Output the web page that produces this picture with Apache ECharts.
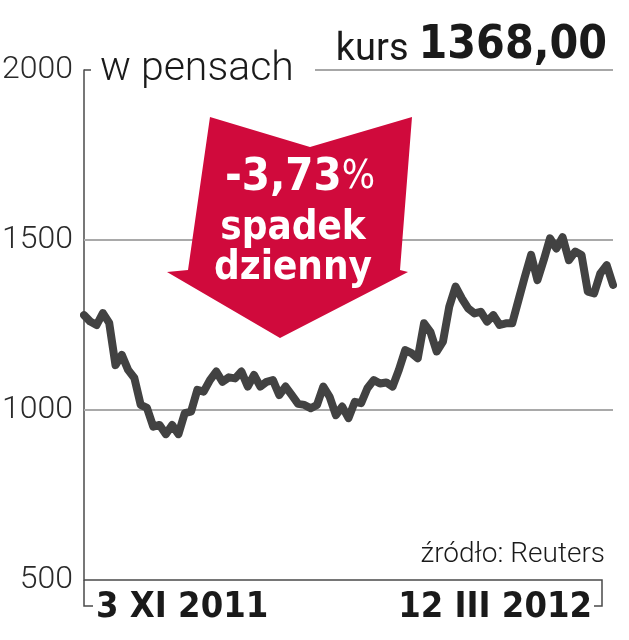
<!DOCTYPE html>
<html><head><meta charset="utf-8">
<script src="https://cdn.jsdelivr.net/npm/echarts@6/dist/echarts.min.js"></script>
<style>html,body{margin:0;padding:0;background:#fff}#c{width:629px;height:640px}</style>
</head><body><div id="c"></div>
<script>
// Daily closing prices (pence), 3 XI 2011 – 12 III 2012
const prices = [
  1279,1260,1250,1285,1256,1132,1162,1118,1094,1015,1006,951,956,929,956,929,991,995,1059,1054,1088,1113,
  1083,1096,1093,1113,1069,1103,1069,1083,1088,1044,1069,1044,1018,1015,1005,1015,1069,1039,985,1010,976,1024,
  1020,1064,1088,1078,1081,1069,1118,1176,1167,1152,1255,1230,1172,1201,1304,1363,1328,1299,1284,
  1289,1260,1279,1250,1255,1255,1324,1392,1456,1382,1441,1505,1475,1508,1441,1466,1456,1348,1343,1402,1426,1368
];
const xTickLabels = ['3 XI 2011', '12 III 2012'];
const yMin = 500, yMax = 2000, yStep = 500;
const gridValues = [1000, 1500];
const unitLabel = 'w pensach';
const lastLabel = 'kurs';
const lastValue = '1368,00';
const changeValue = '-3,73';
const changeUnit = '%';
const changeLines = ['spadek', 'dzienny'];
const sourceText = 'źródło: Reuters';
const categories = prices.map((_, i) => i);

const COND = "'DejaVu Sans Condensed', 'Liberation Sans Narrow', 'DejaVu Sans', sans-serif";
const LIGHT = "Roboto, 'Noto Sans', sans-serif";
const RED = '#d00a3c';
const AX = '#4a4a4a';

const chart = echarts.init(document.getElementById('c'), null, {renderer: 'canvas'});
chart.setOption({
  animation: false,
  backgroundColor: '#fff',
  grid: {left: 84, right: 16, top: 70, bottom: 60, containLabel: false, outerBoundsMode: 'none'},
  title: {
    right: 17, top: 18,
    text: '{a|' + lastLabel + '}  {b|' + lastValue + '}',
    textStyle: {
      rich: {
        a: {fontSize: 38, fontFamily: LIGHT, fontWeight: 400, color: '#1a1a1a', verticalAlign: 'bottom'},
        b: {fontSize: 46, fontFamily: COND, fontWeight: 'bold', color: '#1a1a1a', verticalAlign: 'bottom'}
      }
    }
  },
  xAxis: {
    type: 'category', data: categories, boundaryGap: false,
    axisLine: {show: false}, axisTick: {show: false}, splitLine: {show: false},
    axisLabel: {
      show: true,
      interval: (i) => i === 0 || i === categories.length - 1,
      formatter: (v, i) => i === 0 ? '{l|' + xTickLabels[0] + '}' : '{r|' + xTickLabels[1] + '}',
      alignMinLabel: 'left', alignMaxLabel: 'right',
      margin: 10,
      rich: {
        l: {fontSize: 36, fontFamily: COND, fontWeight: 'bold', color: '#1a1a1a', padding: [0, 0, 0, 12]},
        r: {fontSize: 36, fontFamily: COND, fontWeight: 'bold', color: '#1a1a1a', padding: [0, 21, 0, 0]}
      }
    }
  },
  yAxis: {
    type: 'value', min: yMin, max: yMax, interval: yStep,
    axisLine: {show: true, lineStyle: {color: AX, width: 1.5}},
    axisTick: {show: false},
    splitLine: {show: false},
    axisLabel: {fontSize: 32, fontFamily: LIGHT, fontWeight: 300, color: '#2a2a2a', margin: 11, formatter: (v) => String(v)},
    name: unitLabel, nameLocation: 'end', nameGap: 0,
    nameTextStyle: {align: 'left', verticalAlign: 'middle', fontSize: 41, fontFamily: LIGHT, fontWeight: 300, color: '#1a1a1a', padding: [0, 0, 0, 16]}
  },
  series: [{
    type: 'line', data: prices, showSymbol: false, z: 3,
    lineStyle: {color: '#424242', width: 8, cap: 'round', join: 'round'},
    markLine: {
      silent: true, symbol: 'none', z: 1, label: {show: false},
      lineStyle: {color: '#a9a9a9', width: 2, type: 'solid'},
      data: gridValues.map(v => ({yAxis: v}))
    }
  }],
  graphic: [
    {type: 'polygon', z: 10, shape: {points: [[210,117],[310,147],[412,117],[400,270],[408,272],[280,338],[167,272],[188,270]]}, style: {fill: RED}},
    {type: 'text', z: 11, x: 300, y: 178, style: {
      text: '{a|' + changeValue + '}{b|' + changeUnit + '}', align: 'center', verticalAlign: 'middle',
      rich: {a: {fontSize: 45, fontFamily: COND, fontWeight: 'bold', fill: '#fff'}, b: {fontSize: 39, fontFamily: COND, fill: '#fff'}}
    }},
    {type: 'text', z: 11, x: 293, y: 229, style: {text: changeLines[0], align: 'center', verticalAlign: 'middle', fontSize: 40, fontFamily: COND, fontWeight: 'bold', fill: '#fff'}},
    {type: 'text', z: 11, x: 293, y: 269, style: {text: changeLines[1], align: 'center', verticalAlign: 'middle', fontSize: 40, fontFamily: COND, fontWeight: 'bold', fill: '#fff'}},
    {type: 'line', shape: {x1: 315, y1: 70, x2: 613, y2: 70}, style: {stroke: '#8a8a8a', lineWidth: 1.5}},
    {type: 'line', shape: {x1: 84, y1: 70, x2: 91, y2: 70}, style: {stroke: AX, lineWidth: 1.5}},
    {type: 'polyline', shape: {points: [[84,580],[602,580],[602,606],[594,606]]}, style: {stroke: AX, lineWidth: 1.5, fill: null}},
    {type: 'polyline', shape: {points: [[84,580],[84,606],[93,606]]}, style: {stroke: AX, lineWidth: 1.5, fill: null}},
    {type: 'text', x: 605, y: 555, style: {text: sourceText, align: 'right', verticalAlign: 'middle', fontSize: 28, fontFamily: LIGHT, fontWeight: 300, fill: '#1a1a1a'}}
  ]
});
</script></body></html>
